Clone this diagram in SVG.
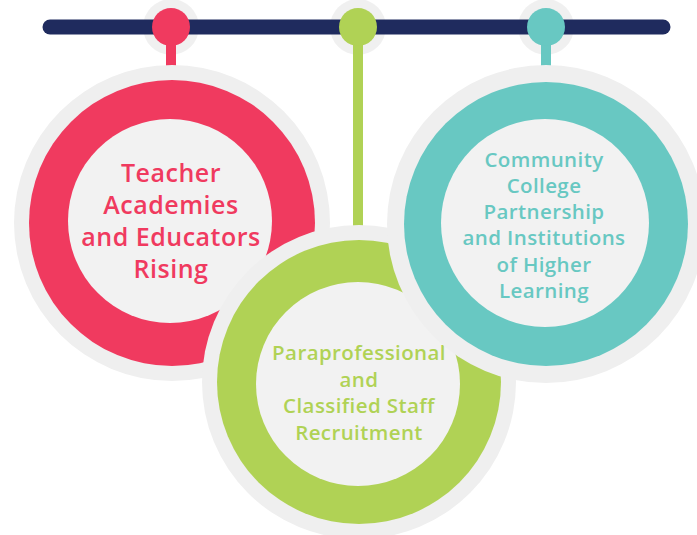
<svg xmlns="http://www.w3.org/2000/svg" width="697" height="535" viewBox="0 0 697 535">
<style>
.halo{fill:#efefef}
.phalo{fill:#000;fill-opacity:0.06}
.inner{fill:#f2f2f2}
.t{font-family:"Open Sans","Liberation Sans",sans-serif;font-weight:600;text-anchor:middle}
.red{fill:#f03a5f}.grn{fill:#b0d255}.tea{fill:#68c8c2}
</style>
<rect width="697" height="535" fill="#fff"/>
<g id="connectors">
<circle class="phalo" cx="171" cy="27" r="28"/>
<circle class="phalo" cx="358" cy="27" r="28"/>
<circle class="phalo" cx="546" cy="27" r="28"/>
<line x1="50" y1="27" x2="663" y2="27" stroke="#1f2b5e" stroke-width="15" stroke-linecap="round"/>
<rect class="red" x="166" y="30" width="10" height="56"/>
<rect class="grn" x="353" y="30" width="10" height="216"/>
<rect class="tea" x="541" y="30" width="10" height="56"/>
<circle class="red" cx="171" cy="27" r="19"/>
<circle class="grn" cx="358" cy="27" r="19"/>
<circle class="tea" cx="546" cy="27" r="19"/>
</g>
<g id="node-teacher">
<circle class="halo" cx="172" cy="223" r="158"/>
<circle class="red" cx="172" cy="223" r="143"/>
<circle class="inner" cx="170" cy="221" r="102"/>
<text class="t red" font-size="25" letter-spacing="0.5"><tspan x="171" y="182">Teacher</tspan><tspan x="171" y="214">Academies</tspan><tspan x="171" y="246">and Educators</tspan><tspan x="171" y="278">Rising</tspan></text>
</g>
<g id="node-para">
<circle class="halo" cx="359" cy="382" r="157"/>
<circle class="grn" cx="359" cy="382" r="142"/>
<circle class="inner" cx="358" cy="384" r="102"/>
<text class="t grn" font-size="20.5" letter-spacing="0.4"><tspan x="359" y="360">Paraprofessional</tspan><tspan x="359" y="387">and</tspan><tspan x="359" y="413">Classified Staff</tspan><tspan x="359" y="440">Recruitment</tspan></text>
</g>
<g id="node-community">
<circle class="halo" cx="546" cy="224" r="159"/>
<circle class="tea" cx="546" cy="224" r="142"/>
<circle class="inner" cx="545" cy="223" r="104"/>
<text class="t tea" font-size="20.5" letter-spacing="0.4"><tspan x="544" y="167">Community</tspan><tspan x="544" y="193">College</tspan><tspan x="544" y="219">Partnership</tspan><tspan x="544" y="245">and Institutions</tspan><tspan x="544" y="272">of Higher</tspan><tspan x="544" y="298">Learning</tspan></text>
</g>
</svg>
